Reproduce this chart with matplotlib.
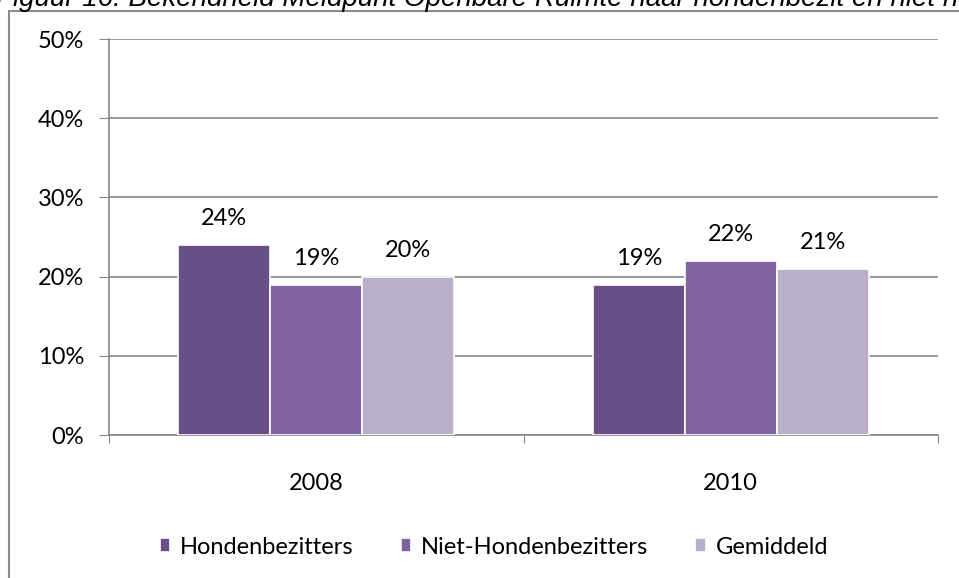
import matplotlib.pyplot as plt
import matplotlib as mpl
import numpy as np

# data
jaren = ['2008', '2010']
groepen = ['Hondenbezitters', 'Niet-Hondenbezitters', 'Gemiddeld']
waarden = {
    'Hondenbezitters': [24, 19],
    'Niet-Hondenbezitters': [19, 22],
    'Gemiddeld': [20, 21],
}
kleuren = ['#684F86', '#8064A2', '#B9AFCB']
titel = 'Figuur 16: Bekendheid Meldpunt Openbare Ruimte naar hondenbezit en niet hondenbezit'

mpl.rcParams['font.family'] = ['Lato', 'DejaVu Sans']
fs = 17

fig = plt.figure(figsize=(9.59, 5.78), dpi=100)
W, H = 959, 578
ax = fig.add_axes([109 / W, (H - 435) / H, (938 - 109) / W, (435 - 39) / H])

x = np.arange(len(jaren))
breedte = 0.222
for i, g in enumerate(groepen):
    pos = x + (i - 1) * breedte
    bars = ax.bar(pos, waarden[g], breedte, color=kleuren[i], edgecolor='white',
                  linewidth=1.2, label=g, zorder=3)
    for b, v in zip(bars, waarden[g]):
        ax.text(b.get_x() + b.get_width() / 2, v + 2.0, f'{v}%', ha='center',
                va='bottom', fontsize=fs, color='black')

ax.set_xlim(-0.5, 1.5)
ax.set_ylim(0, 50)
ax.set_yticks(range(0, 51, 10))
ax.set_yticklabels([f'{t}%' for t in range(0, 51, 10)], fontsize=fs)
ax.set_xticks([-0.5, 0.5, 1.5], minor=False)
ax.set_xticklabels([])
ax.set_xticks(x, minor=True)
ax.set_xticklabels(jaren, minor=True, fontsize=fs)
ax.tick_params(axis='x', which='minor', length=0, pad=27)
ax.tick_params(axis='x', which='major', length=6, color='#878787', direction='out')
ax.tick_params(axis='y', length=7, color='#878787', pad=11)

ax.grid(axis='y', color='#878787', linewidth=1.2, zorder=0)
for s in ['top', 'right']:
    ax.spines[s].set_visible(False)
ax.spines['left'].set_color('#878787')
ax.spines['bottom'].set_color('#878787')
ax.spines['left'].set_linewidth(1.2)
ax.spines['bottom'].set_linewidth(1.2)

ax.legend(loc='center', bbox_to_anchor=(0.515, (H - 547) / H), bbox_transform=fig.transFigure,
          ncol=3, frameon=False, fontsize=fs, handlelength=0.45, handleheight=0.55,
          handletextpad=0.4, columnspacing=2.0)

# kader rond de grafiek
fig.patches.append(plt.Rectangle((9 / W, -0.1), 1.2, (H - 11) / H + 0.1,
                                 transform=fig.transFigure, fill=False,
                                 edgecolor='#8C8C8C', linewidth=1.5))

# titel valt deels buiten beeld, net als in het origineel
fig.text(-4 / W, (H - 6) / H, titel, fontsize=20, style='italic',
         family=['Liberation Sans', 'DejaVu Sans'], va='baseline', ha='left')

fig.savefig('out.png', dpi=100)
